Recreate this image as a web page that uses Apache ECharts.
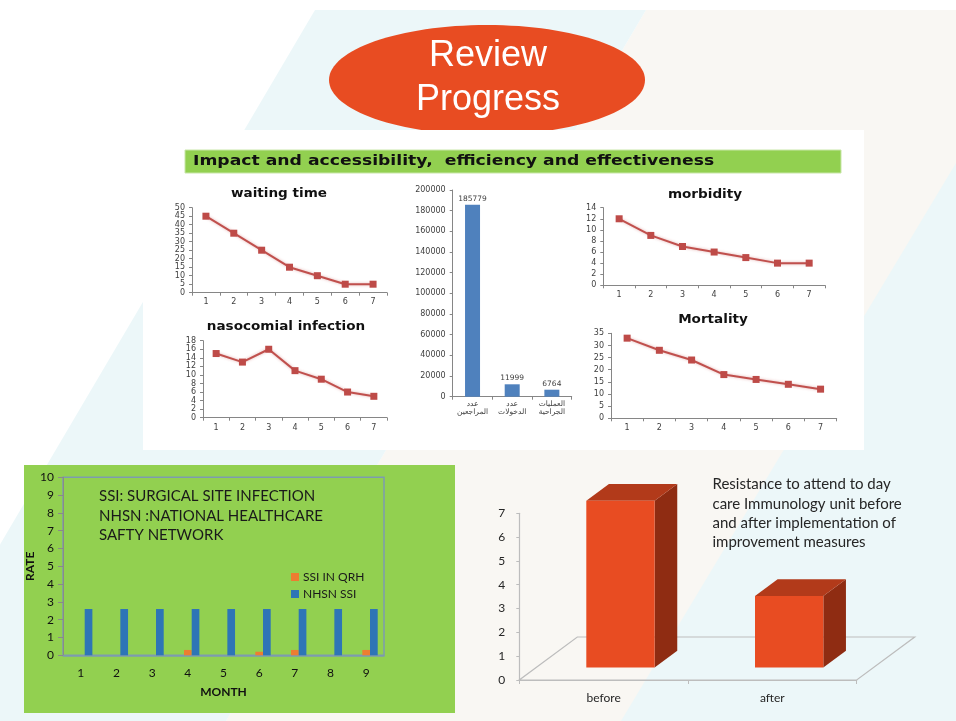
<!DOCTYPE html>
<html>
<head>
<meta charset="utf-8">
<script src="https://cdn.jsdelivr.net/npm/echarts@6/dist/echarts.min.js"></script>
<style>
html,body{margin:0;padding:0;background:#fff;}
#c{width:956px;height:721px;}
</style>
</head>
<body>
<div id="c"></div>
<script>
// ---------- data ----------
const periods = ['1', '2', '3', '4', '5', '6', '7'];
const waitingTime = [45, 35, 25, 15, 10, 5, 5];
const nosocomialInfection = [15, 13, 16, 11, 9, 6, 5];
const morbidity = [12, 9, 7, 6, 5, 4, 4];
const mortality = [33, 28, 24, 18, 16, 14, 12];

const activityLabels = ['عدد\nالمراجعين', 'عدد\nالدخولات', 'العمليات\nالجراحية'];
const activityValues = [185779, 11999, 6764];

const months = ['1', '2', '3', '4', '5', '6', '7', '8', '9'];
const ssiQrh = [0, 0, 0, 0.3, 0, 0.2, 0.3, 0, 0.3];
const nhsnSsi = [2.6, 2.6, 2.6, 2.6, 2.6, 2.6, 2.6, 2.6, 2.6];

const phases = ['before', 'after'];
const resistance = [7, 3];

// ---------- helpers ----------
const SMALL_FONT = 'DejaVu Sans';
const RED = '#c0504d';
const AX = '#868686';

function smallX(grid, margin) {
  return {
    type: 'category', gridIndex: grid, data: periods, boundaryGap: true,
    axisLine: { lineStyle: { color: AX, width: 1 } },
    axisTick: { show: true, length: 3, lineStyle: { color: AX } },
    axisLabel: { fontSize: 8, fontFamily: SMALL_FONT, color: '#404040', margin: margin }
  };
}
function smallY(grid, max, interval) {
  return {
    type: 'value', gridIndex: grid, min: 0, max: max, interval: interval,
    splitLine: { show: false },
    axisLine: { show: true, lineStyle: { color: AX, width: 1 } },
    axisTick: { show: true, length: 3, lineStyle: { color: AX } },
    axisLabel: { fontSize: 8, fontFamily: SMALL_FONT, color: '#404040', margin: 7,
      formatter: v => String(v) }
  };
}
function lineSeries(name, idx, data) {
  return {
    type: 'line', name: name, xAxisIndex: idx, yAxisIndex: idx, data: data,
    symbol: 'rect', symbolSize: 7, z: 3,
    lineStyle: { color: RED, width: 2, shadowColor: 'rgba(192,80,77,0.45)', shadowBlur: 3 },
    itemStyle: { color: '#be4b48' }
  };
}
function stretchedTitle(text, cx, cy, sx) {
  return { type: 'text', z: -10, silent: true, x: cx, y: cy, scaleX: sx,
    style: { text: text, x: 0, y: 0, fill: '#111', font: 'bold 12px "DejaVu Sans", sans-serif',
      textAlign: 'center', textVerticalAlign: 'middle', align: 'center', verticalAlign: 'middle' } };
}

const DEPTH = [58, -43];
const FRONT = 0.29, BACK = 0.68;

const chart = echarts.init(document.getElementById('c'), null, { renderer: 'canvas' });

const option = {
  backgroundColor: '#ffffff',
  animation: false,
  graphic: [
    // background shapes
    { type: 'polygon', z: -20, silent: true, shape: { points: [[646, 10], [956, 10], [956, 721], [226, 721]] }, style: { fill: '#f9f7f3' } },
    { type: 'polygon', z: -19, silent: true, shape: { points: [[315, 10], [646, 10], [226, 721], [-104, 721]] }, style: { fill: '#ecf7f9' } },
    { type: 'polygon', z: -19, silent: true, shape: { points: [[956, 163], [956, 721], [621, 721]] }, style: { fill: '#ecf7f9' } },
    // title ellipse
    { type: 'ellipse', z: -15, silent: true, shape: { cx: 487, cy: 80, rx: 158, ry: 55 }, style: { fill: '#e84c22' } },
    { type: 'text', z: -14, silent: true, style: { text: 'Review', x: 488, y: 56, fill: '#ffffff',
      font: '36px "Liberation Sans", Arial, sans-serif', textAlign: 'center', textVerticalAlign: 'middle', align: 'center', verticalAlign: 'middle' } },
    { type: 'text', z: -14, silent: true, style: { text: 'Progress', x: 488, y: 100, fill: '#ffffff',
      font: '36px "Liberation Sans", Arial, sans-serif', textAlign: 'center', textVerticalAlign: 'middle', align: 'center', verticalAlign: 'middle' } },
    // white panel
    { type: 'rect', z: -12, silent: true, shape: { x: 143, y: 130, width: 721, height: 320 }, style: { fill: '#ffffff' } },
    // header bar
    { type: 'rect', z: -11, silent: true, shape: { x: 185, y: 150, width: 656, height: 23 }, style: { fill: '#92d050', stroke: '#c8e6a8', lineWidth: 1 } },
    { type: 'text', z: -10, silent: true, x: 193, y: 161.5, scaleX: 1.23,
      style: { text: 'Impact and accessibility,  efficiency and effectiveness', x: 0, y: 0, fill: '#111111',
      font: 'bold 14px "DejaVu Sans", sans-serif', textAlign: 'left', textVerticalAlign: 'middle', align: 'left', verticalAlign: 'middle' } },
    // small chart titles
    stretchedTitle('waiting time', 279, 194, 1.13),
    stretchedTitle('nasocomial infection', 286, 327, 1.13),
    stretchedTitle('morbidity', 705, 195, 1.13),
    stretchedTitle('Mortality', 713, 320, 1.13),
    // green SSI panel
    { type: 'rect', z: -12, silent: true, shape: { x: 24, y: 465, width: 431, height: 248 }, style: { fill: '#92d050' } },
    { type: 'text', z: -10, silent: true, style: { text: 'SSI: SURGICAL SITE INFECTION\nNHSN :NATIONAL HEALTHCARE\nSAFTY NETWORK', x: 99, y: 487, fill: '#1a1a1a',
      font: '15px Lato, sans-serif', lineHeight: 19.3, textAlign: 'left', textVerticalAlign: 'top', align: 'left', verticalAlign: 'top' } },
    // resistance text
    { type: 'text', z: -10, silent: true, style: { text: 'Resistance to attend to day\ncare Immunology unit before\nand after implementation of\nimprovement measures', x: 712.5, y: 475, fill: '#262626',
      font: '15px Lato, sans-serif', lineHeight: 19.2, textAlign: 'left', textVerticalAlign: 'top', align: 'left', verticalAlign: 'top' } }
  ],
  grid: [
    { left: 192, top: 207.7, width: 195, height: 85 },      // 0 waiting
    { left: 203, top: 340.7, width: 184, height: 77 },      // 1 nosocomial
    { left: 452.7, top: 190, width: 119, height: 206.7 },   // 2 bars
    { left: 603.3, top: 207.7, width: 221.7, height: 77.6 },// 3 morbidity
    { left: 611, top: 333.3, width: 225.7, height: 85 },    // 4 mortality
    { left: 63, top: 477.3, width: 321, height: 178, show: true, borderColor: '#7d9bb0', borderWidth: 1.5, backgroundColor: 'transparent' }, // 5 SSI
    { left: 519.3, top: 513.3, width: 337.4, height: 166.7 } // 6 3D
  ],
  legend: {
    data: ['SSI IN QRH', 'NHSN SSI'], orient: 'vertical', left: 291, top: 571,
    itemWidth: 8, itemHeight: 8, itemGap: 5, icon: 'rect',
    textStyle: { fontSize: 12, fontFamily: 'Lato, sans-serif', color: '#1a1a1a', padding: [0, 0, 0, -1] },
    padding: 0
  },
  xAxis: [
    smallX(0, 5),
    smallX(1, 6),
    {
      type: 'category', gridIndex: 2, data: activityLabels,
      axisLine: { lineStyle: { color: AX } },
      axisTick: { show: true, length: 3, lineStyle: { color: AX } },
      axisLabel: { fontSize: 7.5, fontFamily: SMALL_FONT, color: '#404040', margin: 3, lineHeight: 8, interval: 0 }
    },
    smallX(3, 6),
    smallX(4, 6),
    {
      type: 'category', gridIndex: 5, data: months,
      name: 'MONTH', nameLocation: 'middle', nameGap: 31,
      nameTextStyle: { fontSize: 12, fontWeight: 'bold', fontFamily: 'Lato, sans-serif', color: '#111' },
      axisLine: { lineStyle: { color: '#7d9bb0', width: 1.5 } },
      axisTick: { show: false },
      axisLabel: { fontSize: 12, fontFamily: 'Lato, sans-serif', color: '#111', margin: 12 }
    },
    {
      type: 'category', gridIndex: 6, data: phases,
      axisLine: { lineStyle: { color: '#bdbdbd', width: 1.2 } },
      axisTick: { show: true, length: 4, lineStyle: { color: '#bdbdbd' } },
      axisLabel: { fontSize: 12, fontFamily: 'Lato, sans-serif', color: '#262626', margin: 12 }
    }
  ],
  yAxis: [
    smallY(0, 50, 5),
    smallY(1, 18, 2),
    smallY(2, 200000, 20000),
    smallY(3, 14, 2),
    smallY(4, 35, 5),
    {
      type: 'value', gridIndex: 5, min: 0, max: 10, interval: 1,
      name: 'RATE', nameLocation: 'middle', nameGap: 22, nameRotate: 90,
      nameTextStyle: { fontSize: 12, fontWeight: 'bold', fontFamily: 'Lato, sans-serif', color: '#111' },
      splitLine: { show: false },
      axisLine: { show: true, lineStyle: { color: '#8a8a8a', width: 1 } },
      axisTick: { show: true, length: 5, lineStyle: { color: '#8a8a8a' } },
      axisLabel: { fontSize: 12, fontFamily: 'Lato, sans-serif', color: '#111', margin: 9 }
    },
    {
      type: 'value', gridIndex: 6, min: 0, max: 7, interval: 1,
      splitLine: { show: false },
      axisLine: { show: true, lineStyle: { color: '#bdbdbd', width: 1.2 } },
      axisTick: { show: true, length: 3, lineStyle: { color: '#bdbdbd' } },
      axisLabel: { fontSize: 12, fontFamily: 'Lato, sans-serif', color: '#262626', margin: 14 }
    }
  ],
  series: [
    lineSeries('waiting time', 0, waitingTime),
    lineSeries('nasocomial infection', 1, nosocomialInfection),
    {
      type: 'bar', name: 'activity', xAxisIndex: 2, yAxisIndex: 2, data: activityValues,
      barWidth: 15, itemStyle: { color: '#4f81bd' },
      label: { show: true, position: 'top', distance: 2, fontSize: 7.5, fontFamily: SMALL_FONT, color: '#404040', formatter: p => String(p.value) }
    },
    lineSeries('morbidity', 3, morbidity),
    lineSeries('Mortality', 4, mortality),
    // SSI chart: an empty first slot as in the original layout
    { type: 'bar', name: 'gap', xAxisIndex: 5, yAxisIndex: 5, data: months.map(() => '-'), barWidth: 7.7, barGap: '0%' },
    { type: 'bar', name: 'SSI IN QRH', xAxisIndex: 5, yAxisIndex: 5, data: ssiQrh, barWidth: 7.7, barGap: '0%', itemStyle: { color: '#ed7d31' } },
    { type: 'bar', name: 'NHSN SSI', xAxisIndex: 5, yAxisIndex: 5, data: nhsnSsi, barWidth: 7.7, barGap: '0%', itemStyle: { color: '#2e75b6' } },
    // 3D floor
    {
      type: 'custom', name: 'floor', xAxisIndex: 6, yAxisIndex: 6, data: [[0, 0]], z: 1, silent: true,
      renderItem: function (params, api) {
        const cs = params.coordSys;
        const x0 = cs.x, x1 = cs.x + cs.width, y0 = cs.y + cs.height;
        return {
          type: 'polygon',
          shape: { points: [[x0, y0], [x1, y0], [x1 + DEPTH[0], y0 + DEPTH[1]], [x0 + DEPTH[0], y0 + DEPTH[1]]] },
          style: { fill: 'none', stroke: '#bdbdbd', lineWidth: 1.2 }
        };
      }
    },
    // 3D bars
    {
      type: 'custom', name: 'resistance', xAxisIndex: 6, yAxisIndex: 6, z: 3,
      data: resistance.map((v, i) => [i, v]),
      renderItem: function (params, api) {
        const idx = api.value(0), val = api.value(1);
        const base = api.coord([idx, 0]);
        const top = api.coord([idx, val]);
        const bw = api.size([1, 0])[0] * 0.405;
        const fx = DEPTH[0] * FRONT, fy = DEPTH[1] * FRONT;
        const bx = DEPTH[0] * BACK, by = DEPTH[1] * BACK;
        const l = base[0] - bw / 2, r = base[0] + bw / 2;
        const yb = base[1], yt = top[1];
        const front = [[l + fx, yt + fy], [r + fx, yt + fy], [r + fx, yb + fy], [l + fx, yb + fy]];
        const topFace = [[l + fx, yt + fy], [r + fx, yt + fy], [r + bx, yt + by], [l + bx, yt + by]];
        const side = [[r + fx, yt + fy], [r + bx, yt + by], [r + bx, yb + by], [r + fx, yb + fy]];
        return {
          type: 'group',
          children: [
            { type: 'polygon', shape: { points: side }, style: { fill: '#8f2c12' } },
            { type: 'polygon', shape: { points: topFace }, style: { fill: '#b23a1a' } },
            { type: 'polygon', shape: { points: front }, style: { fill: '#e84c22' } }
          ]
        };
      }
    }
  ]
};

chart.setOption(option);
</script>
</body>
</html>
